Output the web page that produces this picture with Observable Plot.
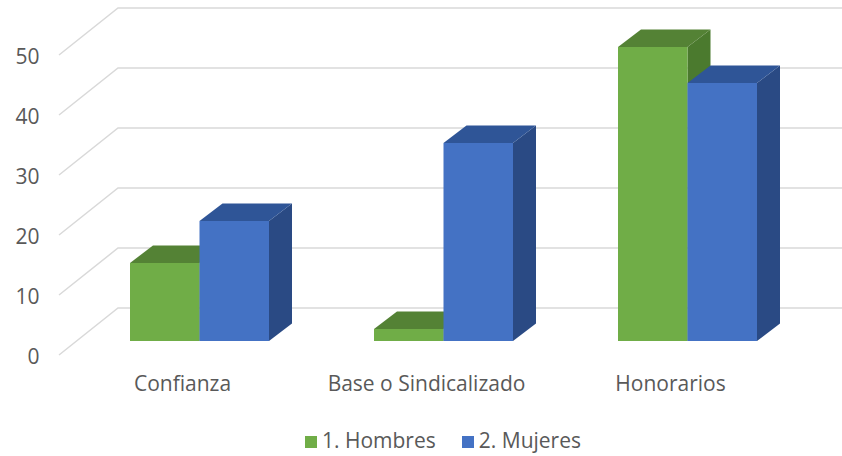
<!DOCTYPE html>
<html>
<head>
<meta charset="utf-8">
<script src="https://cdn.jsdelivr.net/npm/d3@7"></script>
<script src="https://cdn.jsdelivr.net/npm/@observablehq/plot@0.6"></script>
<style>
  html, body { margin: 0; padding: 0; background: #ffffff; }
  #chart { width: 842px; font-family: "Open Sans", sans-serif; }
  #chart svg { display: block; }
  .legend {
    height: 29px; padding-top: 16px; padding-left: 44px;
    display: flex; justify-content: center; gap: 26px;
    font: 21px "Open Sans", sans-serif; color: #595959; line-height: 28px; white-space: nowrap;
  }
  .legend .sw { display: inline-block; width: 12px; height: 12px; margin-right: 5px; }
</style>
</head>
<body>
<div id="chart"></div>
<script>
// ---- data ----
const categories = ["Confianza", "Base o Sindicalizado", "Honorarios"];
const series = ["1. Hombres", "2. Mujeres"];
const hombres = [13, 2, 49];
const mujeres = [20, 33, 43];
const yTicks = [0, 10, 20, 30, 40, 50];

// ---- styles ----
const frontColors = ["#70AD47", "#4472C4"];
const topColors = ["#548235", "#2F5597"];
const sideColors = ["#4B7A2E", "#2A4A84"];
const gridColor = "#D9D9D9";
const textColor = "#595959";
const BAR_DEPTH = {dx: 23, dy: -17.5};                           // projection of bar depth
const WALL = {frontX: -22, frontY: 14, backX: 37, backY: -33};   // gridline 3D offsets

const table = categories.flatMap((c, i) => [
  {category: c, series: series[0], value: hombres[i]},
  {category: c, series: series[1], value: mujeres[i]}
]);

// Draws each bar as a 3D prism; the series splits the category band in two.
function prism(index, scales, values) {
  const band = typeof scales.x.bandwidth === "function" ? scales.x.bandwidth() : scales.scales.x.bandwidth;
  const bw = band / series.length;
  const {dx, dy} = BAR_DEPTH;
  const g = d3.create("svg:g");
  for (const i of index) {
    const k = series.indexOf(table[i].series);
    const x0 = values.x[i] + k * bw, x1 = x0 + bw;
    const yt = Math.min(values.y1[i], values.y2[i]);
    const yb = Math.max(values.y1[i], values.y2[i]);
    g.append("polygon")
      .attr("points", [[x1, yt], [x1 + dx, yt + dy], [x1 + dx, yb + dy], [x1, yb]].join(" "))
      .attr("fill", sideColors[k]);
    g.append("polygon")
      .attr("points", [[x0, yt], [x0 + dx, yt + dy], [x1 + dx, yt + dy], [x1, yt]].join(" "))
      .attr("fill", topColors[k]);
    g.append("rect")
      .attr("x", x0).attr("y", yt).attr("width", bw).attr("height", yb - yt)
      .attr("fill", values.fill ? values.fill[i] : frontColors[k]);
  }
  return g.node();
}

// Gridlines with a perspective segment on the side wall.
function wallGrid(index, scales, values, dimensions) {
  const {marginLeft, width} = dimensions;
  const g = d3.create("svg:g")
    .attr("fill", "none").attr("stroke", gridColor).attr("stroke-width", 1.5);
  for (const i of index) {
    const y = values.y[i];
    g.append("path").attr("d",
      `M${marginLeft + WALL.frontX},${y + WALL.frontY}L${marginLeft + WALL.backX},${y + WALL.backY}H${width}`);
  }
  return g.node();
}

const plot = Plot.plot({
  width: 842,
  height: 410,
  marginLeft: 81,
  marginRight: 36,
  marginTop: 41,
  marginBottom: 69,
  style: {fontFamily: "Open Sans, sans-serif", fontSize: "21px", color: textColor, background: "#fff"},
  x: {domain: categories, paddingInner: 0.43, paddingOuter: 0.2},
  y: {domain: [0, 50], axis: null},
  color: {domain: series, range: frontColors},
  marks: [
    Plot.ruleY(yTicks, {y: d => d, render: wallGrid}),
    Plot.barY(table, {x: "category", y1: 0, y2: "value", fill: "series", render: prism}),
    Plot.axisX({anchor: "bottom", tickSize: 0, dx: -17.5, dy: 26, fontSize: 21, label: null}),
    Plot.text(yTicks, {
      y: d => d, text: d => String(d),
      frameAnchor: "left", textAnchor: "end", dx: -42, dy: 16, fontSize: 21, fill: textColor
    })
  ]
});

const chart = document.getElementById("chart");
chart.appendChild(plot);

const legend = d3.select(chart).append("div").attr("class", "legend");
const items = legend.selectAll("div").data(series).join("div");
items.append("span").attr("class", "sw").style("background", (d, i) => frontColors[i]);
items.append("span").text(d => d);
</script>
</body>
</html>
